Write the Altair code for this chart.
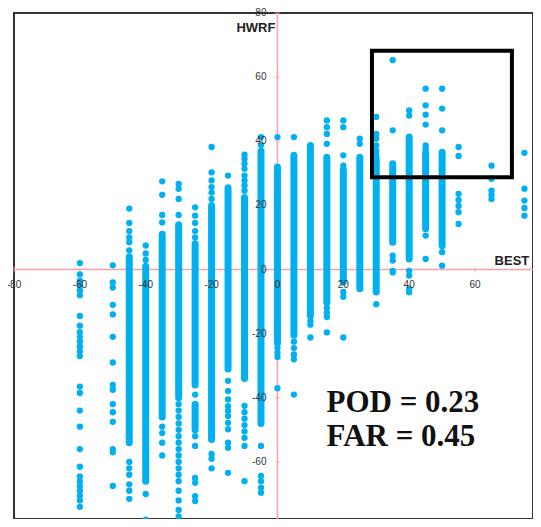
import altair as alt
import pandas as pd

# ---------------- data ----------------
# dense (continuous-looking) runs of points: BEST value, HWRF low, HWRF high
seg_best = [-45, -40, -35, -30, -25, -25, -20, -15, -10, -5, 0, 5, 10, 15, 20, 25, 30, 35, 40, 45, 50]
seg_lo = [-54, -66, -46, -40, -36, -50, -53, -31, -34, -48, -23, -20.5, -14.4, -10.3, -4, -6, -7, 8.5, 3.3, 12.7, 7.4]
seg_hi = [4, 1, 11, 14, 8, -42, 20, 25.5, 22.5, 37, 32, 35.6, 38.7, 35, 31, 35, 34.5, 33, 41.3, 36.6, 36.6]

# individual points per BEST column (HWRF values)
pts = {
    -60: [2, -1.5, -3.5, -5, -6.5, -8, -14.5, -17.5, -19.5, -21, -22.5, -24, -25.5, -27,
          -36.5, -38.5, -44, -49, -56, -61.5, -64.5, -66, -67.5, -69, -70.5, -72, -74, -79],
    -50: [1.3, -4, -5.6, -11, -14, -21, -29, -36, -37.5, -42, -44.5, -47.5, -56, -57, -67.5],
    -45: [19, 14.5, 12, 10, 8.5, 6, -60, -62, -64, -67, -69, -71.5],
    -40: [7.5, 5, 3, -70, -78],
    -35: [27.5, 23.3, 17, 14.7, -49, -51, -54, -58],
    -30: [26.7, 25.2, 22, 17, -42, -44, -46, -48, -50, -52, -54, -56, -58, -60, -62, -64,
          -66, -69, -72, -75, -77],
    -25: [19.4, 16.8, 14.5, 12, 10, -39, -52, -55, -65, -66.5, -70.7, -72.2],
    -20: [38.2, 30.3, 27.8, 25.7, 24, 22, -57.5, -59, -62],
    -15: [29.3, -34.7, -37.9, -40.5, -42.6, -44.1, -45.7, -47.8, -49.8, -54, -55.6, -63.4],
    -10: [35.8, 34.5, 33, 31.4, 29.3, 27.8, 26.2, 24.6, -42.5, -44.5, -46.5, -48.5, -50.5,
          -52.5, -55, -66],
    -5: [41.3, 38.8, -55, -64.4, -66, -68, -69.6],
    0: [41.3, -24.5, -26, -27.3, -37],
    5: [41.3, -22.5, -24.5, -26.5, -28, -39],
    10: [-16, -17.2, -21.2],
    15: [46.5, 44.4, 42.3, 39.2, -12, -13.5, -14.8, -19.6],
    20: [46.5, 44.4, 35.6, 32.4, -7, -8.5, -21.2],
    25: [40.8, 39.2],
    30: [47.6, 42.3, 40.8, 38.7, 37, 35.6, -10.8],
    35: [65.3, 43.4, 4.3, 2.8, -0.4, -0.9],
    40: [49.6, 48, -0.4, -1.9, -6.1, -7.1],
    45: [56.4, 51.2, 48.3, 45.2, 38.7, 37.7, 10.6, 3.3],
    50: [56.4, 50.2, 43.4, 5.4, 1.2],
    55: [38.2, 35.4, 23.6, 21.7, 19.8, 17.9, 14.2],
    65: [32.4, 28.3, 24.6, 23.3, 22],
    75: [36.4, 25.2, 21.5, 19.2, 16.8],
}

tick_values = [-80, -60, -40, -20, 0, 20, 40, 60, 80]
box = {"x": 28.7, "x2": 71.2, "y": 28.8, "y2": 68.2}
stats_text = ["POD = 0.23", "FAR = 0.45"]
stats_y = [-44.5, -55]

# ---------------- build tables ----------------
seg_df = pd.DataFrame({"best": seg_best, "lo": seg_lo, "hi": seg_hi})
pt_rows = [{"best": b, "hwrf": v} for b, vals in pts.items() for v in vals]
pt_df = pd.DataFrame(pt_rows)
ticks_df = pd.DataFrame({"v": tick_values, "zero": [0] * len(tick_values),
                         "lab": [str(t) for t in tick_values]})
box_df = pd.DataFrame([box])
stats_df = pd.DataFrame({"t": stats_text, "y": stats_y, "x": [14.9, 14.9]})

PINK = "#F4A3AB"
BLUE = "#00B0F0"
# the page crops the original frame slightly on the right and bottom
xs = alt.Scale(domain=[-80, 77.6], nice=False, zero=False)
ys = alt.Scale(domain=[-77.8, 80], nice=False, zero=False)


def X(f):
    return alt.X(f, type="quantitative", scale=xs, axis=None)


def Y(f):
    return alt.Y(f, type="quantitative", scale=ys, axis=None)


axis_df = pd.DataFrame({"a": [0], "lo": [-80], "hi": [80]})
vline = alt.Chart(axis_df).mark_rule(color=PINK, strokeWidth=1.5).encode(
    x=X("a"), y=Y("lo"), y2="hi")
hline = alt.Chart(axis_df).mark_rule(color=PINK, strokeWidth=1.5).encode(
    y=Y("a"), x=X("lo"), x2="hi")

xticks = alt.Chart(ticks_df).mark_tick(color=PINK, orient="vertical", size=6, thickness=1).encode(
    x=X("v"), y=Y("zero"))
yticks = alt.Chart(ticks_df).mark_tick(color=PINK, orient="horizontal", size=6, thickness=1).encode(
    y=Y("v"), x=X("zero"))

segs = alt.Chart(seg_df).mark_rule(color=BLUE, strokeWidth=7, strokeCap="round").encode(
    x=X("best"), y=Y("lo"), y2="hi")
dots = alt.Chart(pt_df).mark_circle(color=BLUE, size=40, opacity=1).encode(
    x=X("best"), y=Y("hwrf"))

xlabels = alt.Chart(ticks_df).mark_text(fontSize=10, color="#333333", dy=15.5,
                                        font="Liberation Sans").encode(
    x=X("v"), y=Y("zero"), text="lab")
ylabels = alt.Chart(ticks_df).mark_text(fontSize=10, color="#333333", align="right", dx=-11,
                                        font="Liberation Sans").encode(
    y=Y("v"), x=X("zero"), text="lab")

title_df = pd.DataFrame({"t": ["HWRF"], "x": [0], "y": [75.2]})
hwrf = alt.Chart(title_df).mark_text(fontSize=13, fontWeight="bold", align="right", dx=-2,
                                     color="#222222", font="Liberation Sans").encode(
    x=X("x"), y=Y("y"), text="t")
best_df = pd.DataFrame({"t": ["BEST"], "x": [71.2], "y": [0]})
best = alt.Chart(best_df).mark_text(fontSize=13, fontWeight="bold", baseline="bottom", dy=-2,
                                    color="#222222", font="Liberation Sans").encode(
    x=X("x"), y=Y("y"), text="t")

rect = alt.Chart(box_df).mark_rect(filled=False, stroke="black", strokeWidth=4,
                                   strokeJoin="miter").encode(
    x=X("x"), x2="x2", y=Y("y"), y2="y2")

stats = alt.Chart(stats_df).mark_text(fontSize=31, fontWeight="bold", align="left",
                                      baseline="alphabetic", font="Liberation Serif",
                                      color="#111111").encode(
    x=X("x"), y=Y("y"), text="t")

chart = alt.layer(vline, hline, xticks, yticks, segs, dots, xlabels, ylabels,
                  hwrf, best, rect, stats).properties(
    width=519, height=506, autosize="none",
    padding={"left": 6, "top": 5, "right": 0, "bottom": 0},
    background="white",
).configure_view(stroke="#333333", strokeWidth=2)

chart.save("out.html", embed_options={"renderer": "svg", "actions": False})
